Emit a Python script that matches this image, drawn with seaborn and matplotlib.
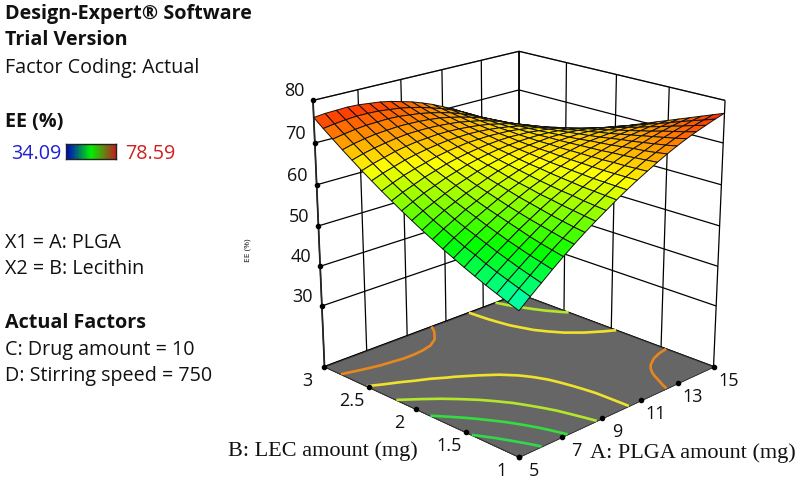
"""Response surface of EE (%) over PLGA and lecithin amounts, Design-Expert look."""
import numpy as np
import matplotlib
matplotlib.use('Agg')
import matplotlib.pyplot as plt
import seaborn as sns
from mpl_toolkits.mplot3d import proj3d

plga_levels = [5, 5.5, 6, 6.5, 7, 7.5, 8, 8.5, 9, 9.5, 10, 10.5, 11, 11.5, 12, 12.5, 13, 13.5, 14, 14.5, 15]
lec_levels = [1, 1.1, 1.2, 1.3, 1.4, 1.5, 1.6, 1.7, 1.8, 1.9, 2, 2.1, 2.2, 2.3, 2.4, 2.5, 2.6, 2.7, 2.8, 2.9, 3]

# one row per PLGA level, one column per lecithin level
ee_values = [
    [48.0, 48.9, 49.9, 50.9, 52.0, 53.1, 54.3, 55.5, 56.8, 58.1, 59.5, 60.9, 62.4, 63.9, 65.5, 67.1, 68.8, 70.5, 72.3, 74.1, 76.0],
    [50.2, 51.1, 52.0, 52.9, 53.9, 55.0, 56.0, 57.2, 58.4, 59.6, 60.9, 62.2, 63.6, 65.0, 66.5, 68.0, 69.6, 71.2, 72.8, 74.5, 76.3],
    [52.3, 53.1, 53.9, 54.8, 55.7, 56.7, 57.7, 58.7, 59.8, 61.0, 62.1, 63.4, 64.6, 66.0, 67.3, 68.7, 70.2, 71.7, 73.2, 74.8, 76.4],
    [54.4, 55.1, 55.8, 56.6, 57.4, 58.3, 59.2, 60.2, 61.2, 62.2, 63.3, 64.4, 65.6, 66.8, 68.1, 69.4, 70.7, 72.1, 73.5, 75.0, 76.5],
    [56.4, 57.0, 57.6, 58.3, 59.1, 59.9, 60.7, 61.5, 62.4, 63.4, 64.4, 65.4, 66.4, 67.5, 68.7, 69.9, 71.1, 72.3, 73.6, 75.0, 76.4],
    [58.3, 58.8, 59.4, 60.0, 60.6, 61.3, 62.0, 62.8, 63.6, 64.4, 65.3, 66.2, 67.2, 68.2, 69.2, 70.3, 71.4, 72.5, 73.7, 74.9, 76.1],
    [60.1, 60.5, 61.0, 61.5, 62.1, 62.7, 63.3, 64.0, 64.7, 65.4, 66.2, 67.0, 67.8, 68.7, 69.6, 70.5, 71.5, 72.5, 73.6, 74.6, 75.8],
    [61.8, 62.2, 62.6, 63.0, 63.5, 63.9, 64.5, 65.0, 65.6, 66.3, 66.9, 67.6, 68.3, 69.1, 69.9, 70.7, 71.5, 72.4, 73.3, 74.3, 75.3],
    [63.4, 63.7, 64.0, 64.4, 64.7, 65.1, 65.5, 66.0, 66.5, 67.0, 67.5, 68.1, 68.7, 69.4, 70.0, 70.7, 71.4, 72.2, 73.0, 73.8, 74.6],
    [65.0, 65.2, 65.4, 65.6, 65.9, 66.2, 66.5, 66.9, 67.2, 67.6, 68.1, 68.5, 69.0, 69.5, 70.1, 70.6, 71.2, 71.9, 72.5, 73.2, 73.9],
    [66.5, 66.6, 66.7, 66.8, 67.0, 67.2, 67.4, 67.6, 67.9, 68.2, 68.5, 68.8, 69.2, 69.6, 70.0, 70.4, 70.9, 71.4, 71.9, 72.4, 73.0],
    [67.9, 67.9, 67.9, 67.9, 68.0, 68.1, 68.2, 68.3, 68.5, 68.6, 68.8, 69.0, 69.3, 69.5, 69.8, 70.1, 70.4, 70.8, 71.2, 71.6, 72.0],
    [69.2, 69.1, 69.0, 69.0, 68.9, 68.9, 68.9, 68.9, 68.9, 69.0, 69.0, 69.1, 69.2, 69.4, 69.5, 69.7, 69.9, 70.1, 70.3, 70.6, 70.8],
    [70.5, 70.3, 70.1, 69.9, 69.8, 69.6, 69.5, 69.4, 69.3, 69.2, 69.2, 69.1, 69.1, 69.1, 69.1, 69.1, 69.2, 69.3, 69.3, 69.5, 69.6],
    [71.7, 71.3, 71.0, 70.8, 70.5, 70.2, 70.0, 69.8, 69.5, 69.3, 69.2, 69.0, 68.8, 68.7, 68.6, 68.5, 68.4, 68.3, 68.2, 68.2, 68.2],
    [72.8, 72.3, 71.9, 71.5, 71.1, 70.8, 70.4, 70.0, 69.7, 69.4, 69.1, 68.8, 68.5, 68.2, 67.9, 67.7, 67.4, 67.2, 67.0, 66.8, 66.6],
    [73.8, 73.2, 72.7, 72.2, 71.7, 71.2, 70.7, 70.2, 69.8, 69.3, 68.9, 68.4, 68.0, 67.6, 67.2, 66.8, 66.4, 66.0, 65.7, 65.3, 65.0],
    [74.7, 74.0, 73.4, 72.8, 72.1, 71.5, 70.9, 70.3, 69.7, 69.1, 68.6, 68.0, 67.4, 66.9, 66.3, 65.8, 65.2, 64.7, 64.2, 63.7, 63.2],
    [75.5, 74.8, 74.0, 73.3, 72.5, 71.8, 71.0, 70.3, 69.6, 68.9, 68.1, 67.4, 66.7, 66.0, 65.3, 64.6, 63.9, 63.3, 62.6, 61.9, 61.2],
    [76.3, 75.4, 74.6, 73.7, 72.8, 71.9, 71.1, 70.2, 69.3, 68.5, 67.6, 66.8, 65.9, 65.1, 64.2, 63.4, 62.5, 61.7, 60.9, 60.0, 59.2],
    [77.0, 76.0, 75.0, 74.0, 73.0, 72.0, 71.0, 70.0, 69.0, 68.0, 67.0, 66.0, 65.0, 64.0, 63.0, 62.0, 61.0, 60.0, 59.0, 58.0, 57.0],
]

contour_levels = [52.5, 57.5, 62.5, 67.5, 72.5]
contour_colors = ['#2fd94a', '#35dc3f', '#b4e62a', '#f0e22c', '#e8871e']

plga_ticks = [5, 7, 9, 11, 13, 15]
lec_ticks = [1, 1.5, 2, 2.5, 3]
lec_tick_labels = ['1', '1.5', '2', '2.5', '3']
ee_ticks = [30, 40, 50, 60, 70, 80]
ee_min, ee_max = 34.09, 78.59
floor_z = 14.4

sns.set_theme(style='white', rc={'grid.color': 'black', 'grid.linewidth': 0.9})
plt.rcParams['font.family'] = ['Open Sans', 'DejaVu Sans']

W, H = 800, 481
fig = plt.figure(figsize=(W / 100, H / 100), dpi=100)
ax = fig.add_axes([0.28, -0.05, 0.72, 1.08], projection='3d', computed_zorder=False)
ax.patch.set_alpha(0)

X, Y = np.meshgrid(plga_levels, lec_levels, indexing='ij')
Z = np.array(ee_values)

surface_cmap = sns.blend_palette(['#0000ff', '#00ffff', '#00ff00', '#ffff00', '#ff0000'], as_cmap=True)
ramp_cmap = sns.blend_palette(['#0000c8', '#00f000', '#c02020'], as_cmap=True)

# grey floor hides the wall grid continuing on the bottom pane
ax.plot_surface(np.array([[5, 5], [15, 15]]), np.array([[1, 3], [1, 3]]), np.full((2, 2), floor_z),
                color='#666666', shade=False, edgecolor='#333333', linewidth=0.6, zorder=1)
ax.contour(X, Y, Z, levels=contour_levels, colors=contour_colors, zdir='z', offset=floor_z,
           linewidths=1.9, zorder=2)
ax.plot_surface(X, Y, Z, rstride=1, cstride=1, cmap=surface_cmap, vmin=ee_min, vmax=ee_max,
                shade=False, edgecolor='#111111', linewidth=0.7, antialiased=True, zorder=3)

ax.set_xlim(5, 15, view_margin=0)
ax.set_ylim(1, 3, view_margin=0)
ax.set_zlim(floor_z, 80, view_margin=0)
ax.set_xticks(plga_ticks)
ax.set_yticks(lec_ticks)
ax.set_zticks(ee_ticks)
ax.set_xticklabels([])
ax.set_yticklabels([])
ax.set_zticklabels([])
for axis in (ax.xaxis, ax.yaxis, ax.zaxis):
    axis._axinfo['tick']['inward_factor'] = 0
    axis._axinfo['tick']['outward_factor'] = 0
    axis.pane.set_facecolor('white')
    axis.pane.set_edgecolor('black')
    axis.pane.set_linewidth(0.9)
ax.grid(True)
ax.set_proj_type('persp', focal_length=0.6)
ax.view_init(elev=20, azim=-135)
ax.set_box_aspect((1, 1, 1.0), zoom=0.916)

# tick dots and labels
ax.scatter([5] * len(ee_ticks), [3] * len(ee_ticks), ee_ticks, color='black', s=9, depthshade=False, zorder=4)
ax.scatter(plga_ticks, [1] * len(plga_ticks), [floor_z] * len(plga_ticks), color='black', s=9, depthshade=False, zorder=4)
ax.scatter([5] * len(lec_ticks), lec_ticks, [floor_z] * len(lec_ticks), color='black', s=9, depthshade=False, zorder=4)


def tick_label(x, y, z, s, dx, dy):
    # label placed a few pixels away from the projected tick dot
    px, py, _ = proj3d.proj_transform(x, y, z, ax.get_proj())
    ax.annotate(s, (px, py), xytext=(dx, dy), textcoords='offset pixels',
                ha='center', va='center', fontsize=13, color='#111111')


for z in ee_ticks:
    tick_label(5, 3, z, str(z), -19, 10)
for a in plga_ticks:
    tick_label(a, 1, floor_z, str(a), 15, -13)
for b, lab in zip(lec_ticks, lec_tick_labels):
    tick_label(5, b, floor_z, lab, -17, -13)


def put(x, y, s, **kw):
    fig.text(x / W, 1 - y / H, s, va='center', color=kw.pop('color', '#111111'), **kw)


put(5, 14, 'Design-Expert® Software', fontsize=14.2, fontweight='bold')
put(5, 40, 'Trial Version', fontsize=14.2, fontweight='bold')
put(5, 68, 'Factor Coding: Actual', fontsize=14.2)
put(5, 122, 'EE (%)', fontsize=14.2, fontweight='bold')
put(11, 154, '34.09', fontsize=14.2, color='#2020d0')
put(125, 154, '78.59', fontsize=14.2, color='#d02020')
put(5, 243, 'X1 = A: PLGA', fontsize=14.2)
put(5, 269, 'X2 = B: Lecithin', fontsize=14.2)
put(5, 323, 'Actual Factors', fontsize=14.2, fontweight='bold')
put(5, 350, 'C: Drug amount = 10', fontsize=14.2)
put(5, 376, 'D: Stirring speed = 750', fontsize=14.2)
put(228, 451, 'B: LEC amount (mg)', fontsize=16, family='Liberation Serif')
put(590, 453, 'A: PLGA amount (mg)', fontsize=16, family='Liberation Serif')
fig.text(248 / W, 1 - 250 / H, 'EE (%)', rotation=90, fontsize=6, ha='center', va='center', color='#111111')

# small colour ramp next to the min/max values
ramp_ax = fig.add_axes([66 / W, 1 - 160 / H, 50 / W, 15 / H])
sns.heatmap(np.linspace(ee_min, ee_max, 64)[None, :], cmap=ramp_cmap, cbar=False, ax=ramp_ax,
            xticklabels=False, yticklabels=False)
for spine in ramp_ax.spines.values():
    spine.set_visible(True)
    spine.set_edgecolor('#222222')
    spine.set_linewidth(1)

fig.savefig('out.png', dpi=100)
plt.close(fig)
